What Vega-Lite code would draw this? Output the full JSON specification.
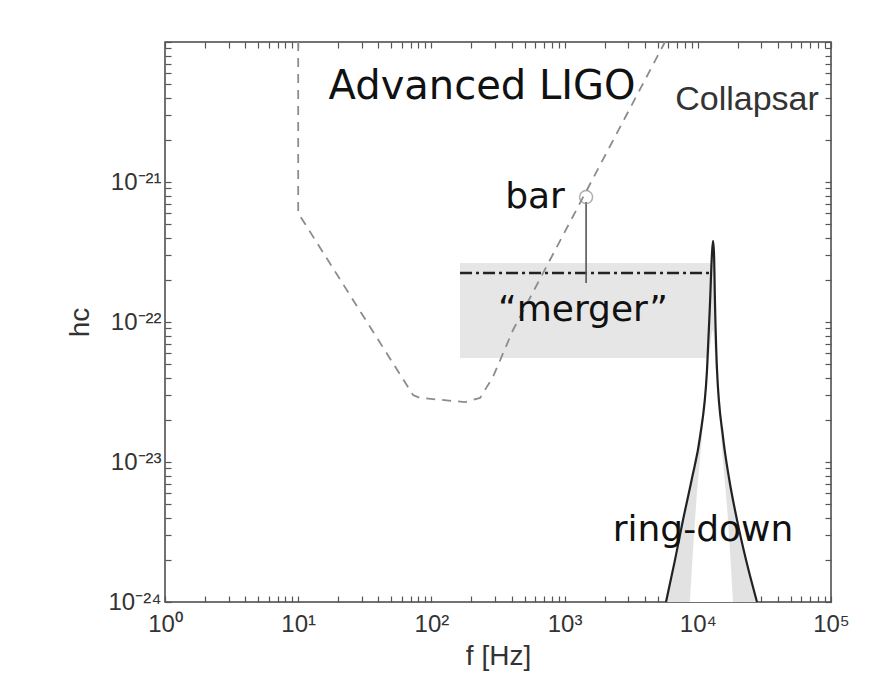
{
  "$schema": "https://vega.github.io/schema/vega-lite/v6.json",
  "width": 666,
  "height": 560,
  "autosize": {"type": "none"},
  "padding": {"left": 165, "top": 42, "right": 52, "bottom": 85},
  "background": "white",
  "config": {
    "view": {"stroke": "#444", "strokeWidth": 1.5},
    "axis": {
      "domain": false,
      "grid": false,
      "tickColor": "#555",
      "tickSize": -6,
      "tickWidth": 1.2,
      "labelFont": "Liberation Sans",
      "labelFontSize": 24,
      "labelColor": "#333",
      "titleFont": "Liberation Sans",
      "titleFontSize": 28,
      "titleFontWeight": "normal",
      "titleColor": "#333"
    }
  },
  "datasets": {
    "box": [{"f1": 164, "f2": 13000, "h1": 5.53e-23, "h2": 2.64e-22}],
    "ligo": [
      {"f": 10, "h": 1e-20},
      {"f": 10, "h": 6.0e-22},
      {"f": 72.8, "h": 3.01e-23},
      {"f": 82, "h": 2.87e-23},
      {"f": 179, "h": 2.68e-23},
      {"f": 232, "h": 2.87e-23},
      {"f": 290, "h": 4.05e-23},
      {"f": 410, "h": 8.77e-23},
      {"f": 5670, "h": 1e-20}
    ],
    "ring": [
      {"f": 5772, "h": 1e-24},
      {"f": 6743, "h": 2.0e-24},
      {"f": 7743, "h": 3.85e-24},
      {"f": 9049, "h": 7.69e-24},
      {"f": 10388, "h": 1.509e-23},
      {"f": 11725, "h": 4.54e-23},
      {"f": 12350, "h": 1.367e-22},
      {"f": 12785, "h": 3.11e-22},
      {"f": 13010, "h": 3.8e-22},
      {"f": 13230, "h": 3.11e-22},
      {"f": 13460, "h": 1.367e-22},
      {"f": 13940, "h": 4.54e-23},
      {"f": 15460, "h": 1.509e-23},
      {"f": 17150, "h": 7.69e-24},
      {"f": 19700, "h": 3.85e-24},
      {"f": 23010, "h": 2.0e-24},
      {"f": 27820, "h": 1e-24}
    ],
    "inner": [
      {"f": 8738, "h": 1e-24},
      {"f": 9530, "h": 3.85e-24},
      {"f": 10752, "h": 1.509e-23},
      {"f": 11930, "h": 4.54e-23},
      {"f": 13010, "h": 8.77e-23},
      {"f": 13700, "h": 4.54e-23},
      {"f": 14940, "h": 1.509e-23},
      {"f": 16850, "h": 3.85e-24},
      {"f": 18380, "h": 1e-24}
    ],
    "merger": [{"f1": 164, "f2": 13000, "h": 2.24e-22}],
    "bar": [{"f": 1450, "h": 7.8e-22, "hlo": 1.9e-22, "hhi": 7.2e-22}],
    "comic": [
      {"label": "bar", "f": 600, "h": 7.8e-22},
      {"label": "“merger”", "f": 1375, "h": 1.22e-22},
      {"label": "ring-down", "f": 10940, "h": 3.27e-24}
    ],
    "title": [{"label": "Advanced LIGO", "f": 240, "h": 4.8e-21}],
    "arial": [{"label": "Collapsar", "f": 23400, "h": 3.86e-21}]
  },
  "resolve": {"axis": {"x": "independent", "y": "independent"}},
  "layer": [
    {
      "data": {"name": "box"},
      "mark": {"type": "rect", "color": "#e6e6e6"},
      "encoding": {
        "x": {
          "field": "f1", "type": "quantitative",
          "scale": {"type": "log", "domain": [1, 100000], "nice": false},
          "axis": {
            "orient": "bottom",
            "title": "f [Hz]",
            "labelPadding": 16,
            "titlePadding": 6,
            "values": [1,2,3,4,5,6,7,8,9,10,20,30,40,50,60,70,80,90,100,200,300,400,500,600,700,800,900,1000,2000,3000,4000,5000,6000,7000,8000,9000,10000,20000,30000,40000,50000,60000,70000,80000,90000,100000],
            "labelExpr": "datum.value == 1 ? '10⁰' : datum.value == 10 ? '10¹' : datum.value == 100 ? '10²' : datum.value == 1000 ? '10³' : datum.value == 10000 ? '10⁴' : datum.value == 100000 ? '10⁵' : ''",
            "labelFlush": false,
            "labelOverlap": false
          }
        },
        "x2": {"field": "f2"},
        "y": {
          "field": "h1", "type": "quantitative",
          "scale": {"type": "log", "domain": [1e-24, 1e-20], "nice": false},
          "axis": {
            "orient": "left",
            "title": "hc",
            "labelPadding": 10,
            "titlePadding": 14,
            "values": [1e-24,2e-24,3e-24,4e-24,5e-24,6e-24,7e-24,8e-24,9e-24,1e-23,2e-23,3e-23,4e-23,5e-23,6e-23,7e-23,8e-23,9e-23,1e-22,2e-22,3e-22,4e-22,5e-22,6e-22,7e-22,8e-22,9e-22,1e-21,2e-21,3e-21,4e-21,5e-21,6e-21,7e-21,8e-21,9e-21,1e-20],
            "labelExpr": "datum.value == 1e-24 ? '10⁻²⁴' : datum.value == 1e-23 ? '10⁻²³' : datum.value == 1e-22 ? '10⁻²²' : datum.value == 1e-21 ? '10⁻²¹' : ''",
            "labelFlush": false,
            "labelOverlap": false
          }
        },
        "y2": {"field": "h2"}
      }
    },
    {
      "data": {"name": "ring"},
      "mark": {"type": "area", "color": "#e2e2e2"},
      "encoding": {
        "x": {"field": "f", "type": "quantitative", "scale": {"type": "log", "domain": [1, 100000], "nice": false}, "axis": null},
        "y": {"field": "h", "type": "quantitative", "scale": {"type": "log", "domain": [1e-24, 1e-20], "nice": false}, "axis": null},
        "y2": {"datum": 1e-24}
      }
    },
    {
      "data": {"name": "inner"},
      "mark": {"type": "area", "color": "white", "interpolate": "monotone"},
      "encoding": {
        "x": {"field": "f", "type": "quantitative", "axis": null},
        "y": {"field": "h", "type": "quantitative", "axis": null},
        "y2": {"datum": 1e-24}
      }
    },
    {
      "data": {"name": "ring"},
      "mark": {"type": "line", "color": "#222", "strokeWidth": 2.2, "interpolate": "monotone"},
      "encoding": {
        "x": {"field": "f", "type": "quantitative", "axis": null},
        "y": {"field": "h", "type": "quantitative", "axis": null}
      }
    },
    {
      "data": {"name": "merger"},
      "mark": {"type": "rule", "color": "#222", "strokeWidth": 2.4, "strokeDash": [12, 4, 3, 4]},
      "encoding": {
        "x": {"field": "f1", "type": "quantitative", "axis": {"orient": "top", "labels": false, "title": null, "values": [1,2,3,4,5,6,7,8,9,10,20,30,40,50,60,70,80,90,100,200,300,400,500,600,700,800,900,1000,2000,3000,4000,5000,6000,7000,8000,9000,10000,20000,30000,40000,50000,60000,70000,80000,90000,100000]}},
        "x2": {"field": "f2"},
        "y": {"field": "h", "type": "quantitative", "axis": {"orient": "right", "labels": false, "title": null, "values": [1e-24,2e-24,3e-24,4e-24,5e-24,6e-24,7e-24,8e-24,9e-24,1e-23,2e-23,3e-23,4e-23,5e-23,6e-23,7e-23,8e-23,9e-23,1e-22,2e-22,3e-22,4e-22,5e-22,6e-22,7e-22,8e-22,9e-22,1e-21,2e-21,3e-21,4e-21,5e-21,6e-21,7e-21,8e-21,9e-21,1e-20]}}
      }
    },
    {
      "data": {"name": "ligo"},
      "mark": {"type": "line", "color": "#8c8c8c", "strokeWidth": 1.8, "strokeDash": [9, 7]},
      "encoding": {
        "x": {"field": "f", "type": "quantitative", "axis": null},
        "y": {"field": "h", "type": "quantitative", "axis": null}
      }
    },
    {
      "data": {"name": "bar"},
      "mark": {"type": "rule", "color": "#555", "strokeWidth": 1.6},
      "encoding": {
        "x": {"field": "f", "type": "quantitative", "axis": null},
        "y": {"field": "hlo", "type": "quantitative", "axis": null},
        "y2": {"field": "hhi"}
      }
    },
    {
      "data": {"name": "bar"},
      "mark": {"type": "point", "filled": false, "color": "#8c8c8c", "strokeWidth": 1.5, "size": 170},
      "encoding": {
        "x": {"field": "f", "type": "quantitative", "axis": null},
        "y": {"field": "h", "type": "quantitative", "axis": null}
      }
    },
    {
      "data": {"name": "comic"},
      "mark": {"type": "text", "font": "DejaVu Sans", "fontSize": 36, "color": "#111", "align": "center", "baseline": "middle"},
      "encoding": {
        "x": {"field": "f", "type": "quantitative", "axis": null},
        "y": {"field": "h", "type": "quantitative", "axis": null},
        "text": {"field": "label"}
      }
    },
    {
      "data": {"name": "title"},
      "mark": {"type": "text", "font": "DejaVu Sans", "fontSize": 40, "color": "#111", "align": "center", "baseline": "middle"},
      "encoding": {
        "x": {"field": "f", "type": "quantitative", "axis": null},
        "y": {"field": "h", "type": "quantitative", "axis": null},
        "text": {"field": "label"}
      }
    },
    {
      "data": {"name": "arial"},
      "mark": {"type": "text", "font": "Liberation Sans", "fontSize": 34, "color": "#333", "align": "center", "baseline": "middle"},
      "encoding": {
        "x": {"field": "f", "type": "quantitative", "axis": null},
        "y": {"field": "h", "type": "quantitative", "axis": null},
        "text": {"field": "label"}
      }
    }
  ]
}
